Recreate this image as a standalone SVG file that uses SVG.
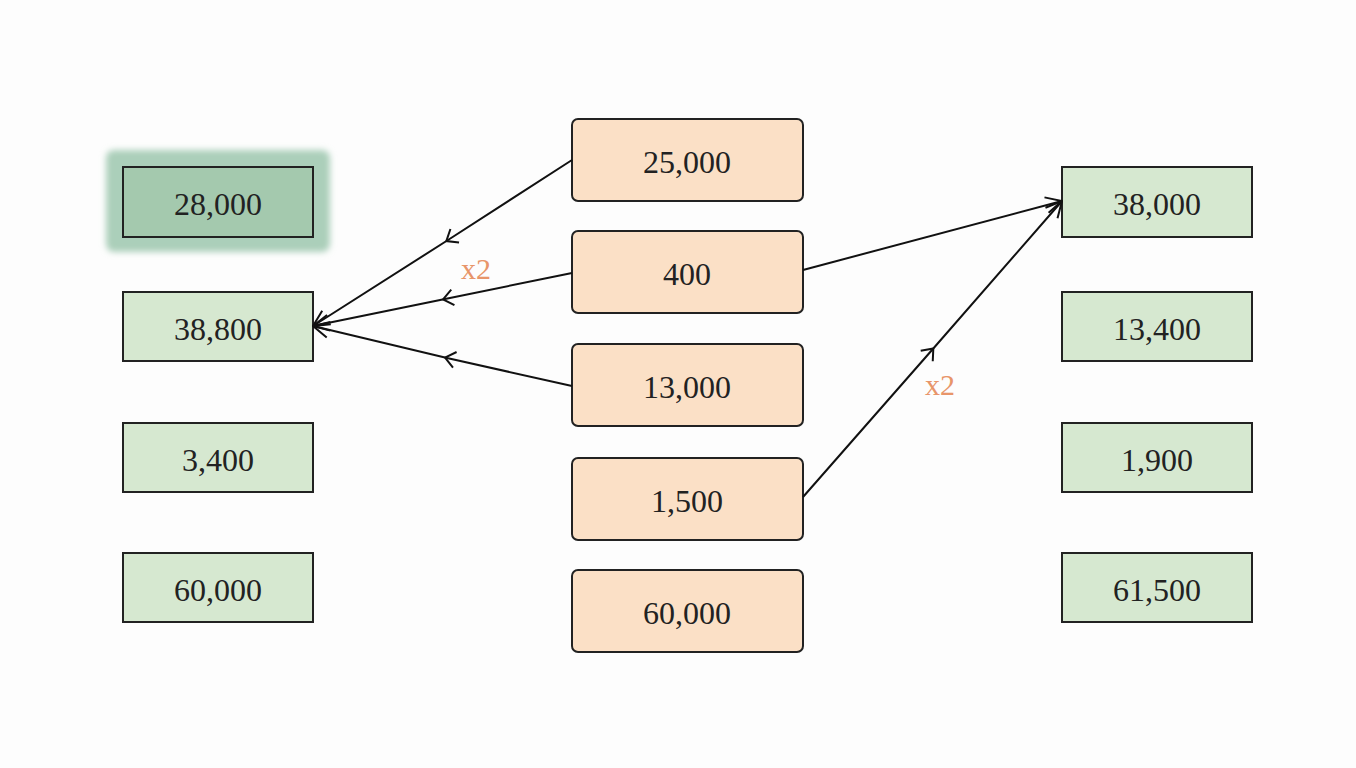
<svg xmlns="http://www.w3.org/2000/svg" width="1356" height="768" viewBox="0 0 1356 768">
<style>
.g rect{fill:#d6e8d0;stroke:#222;stroke-width:2}
.o rect{fill:#fbe0c6;stroke:#222;stroke-width:2}
text{font-family:"Liberation Serif",serif;font-size:32px;fill:#222;text-anchor:middle}
.lbl{fill:#e8956a;font-size:30px}
.c{stroke:#111;stroke-width:2;fill:none}
</style>
<defs>
<marker id="ah" viewBox="0 0 20 20" refX="19" refY="10" markerWidth="20" markerHeight="20" markerUnits="userSpaceOnUse" orient="auto"><path d="M3 2 L19 10 L3 18" fill="none" stroke="#111" stroke-width="2"/></marker>
<marker id="mh" viewBox="0 0 20 20" refX="10" refY="10" markerWidth="20" markerHeight="20" markerUnits="userSpaceOnUse" orient="auto"><path d="M2 2 L12 10 L2 18" fill="none" stroke="#111" stroke-width="2"/></marker>
<filter id="blur" x="-20%" y="-30%" width="140%" height="160%"><feGaussianBlur stdDeviation="3"/></filter>
</defs>
<rect width="1356" height="768" fill="#fdfdfd"/>
<g id="n-l1" class="g"><rect x="106" y="150" width="224" height="102" rx="8" filter="url(#blur)" style="fill:#abcfba;stroke:none"/><rect x="123" y="167" width="190" height="70" style="fill:#a4c9ae"/><text x="218" y="215">28,000</text></g>
<g id="n-l2" class="g"><rect x="123" y="292" width="190" height="69"/><text x="218" y="340">38,800</text></g>
<g id="n-l3" class="g"><rect x="123" y="423" width="190" height="69"/><text x="218" y="471">3,400</text></g>
<g id="n-l4" class="g"><rect x="123" y="553" width="190" height="69"/><text x="218" y="601">60,000</text></g>
<g id="n-c1" class="o"><rect x="572" y="119" width="231" height="82" rx="6"/><text x="687" y="173">25,000</text></g>
<g id="n-c2" class="o"><rect x="572" y="231" width="231" height="82" rx="6"/><text x="687" y="285">400</text></g>
<g id="n-c3" class="o"><rect x="572" y="344" width="231" height="82" rx="6"/><text x="687" y="398">13,000</text></g>
<g id="n-c4" class="o"><rect x="572" y="458" width="231" height="82" rx="6"/><text x="687" y="512">1,500</text></g>
<g id="n-c5" class="o"><rect x="572" y="570" width="231" height="82" rx="6"/><text x="687" y="624">60,000</text></g>
<g id="n-r1" class="g"><rect x="1062" y="167" width="190" height="70"/><text x="1157" y="215">38,000</text></g>
<g id="n-r2" class="g"><rect x="1062" y="292" width="190" height="69"/><text x="1157" y="340">13,400</text></g>
<g id="n-r3" class="g"><rect x="1062" y="423" width="190" height="69"/><text x="1157" y="471">1,900</text></g>
<g id="n-r4" class="g"><rect x="1062" y="553" width="190" height="69"/><text x="1157" y="601">61,500</text></g>
<g id="connectors">
<polyline class="c" points="572,160 448,240 313,326" marker-mid="url(#mh)" marker-end="url(#ah)"/>
<polyline class="c" points="572,273 445,299 313,326" marker-mid="url(#mh)" marker-end="url(#ah)"/>
<polyline class="c" points="572,386 447,358 313,326" marker-mid="url(#mh)" marker-end="url(#ah)"/>
<polyline class="c" points="803,270 1062,201" marker-end="url(#ah)"/>
<polyline class="c" points="803,497 932,350 1062,201" marker-mid="url(#mh)" marker-end="url(#ah)"/>
<text class="lbl" x="476" y="279">x2</text>
<text class="lbl" x="940" y="395">x2</text>
</g>
</svg>
